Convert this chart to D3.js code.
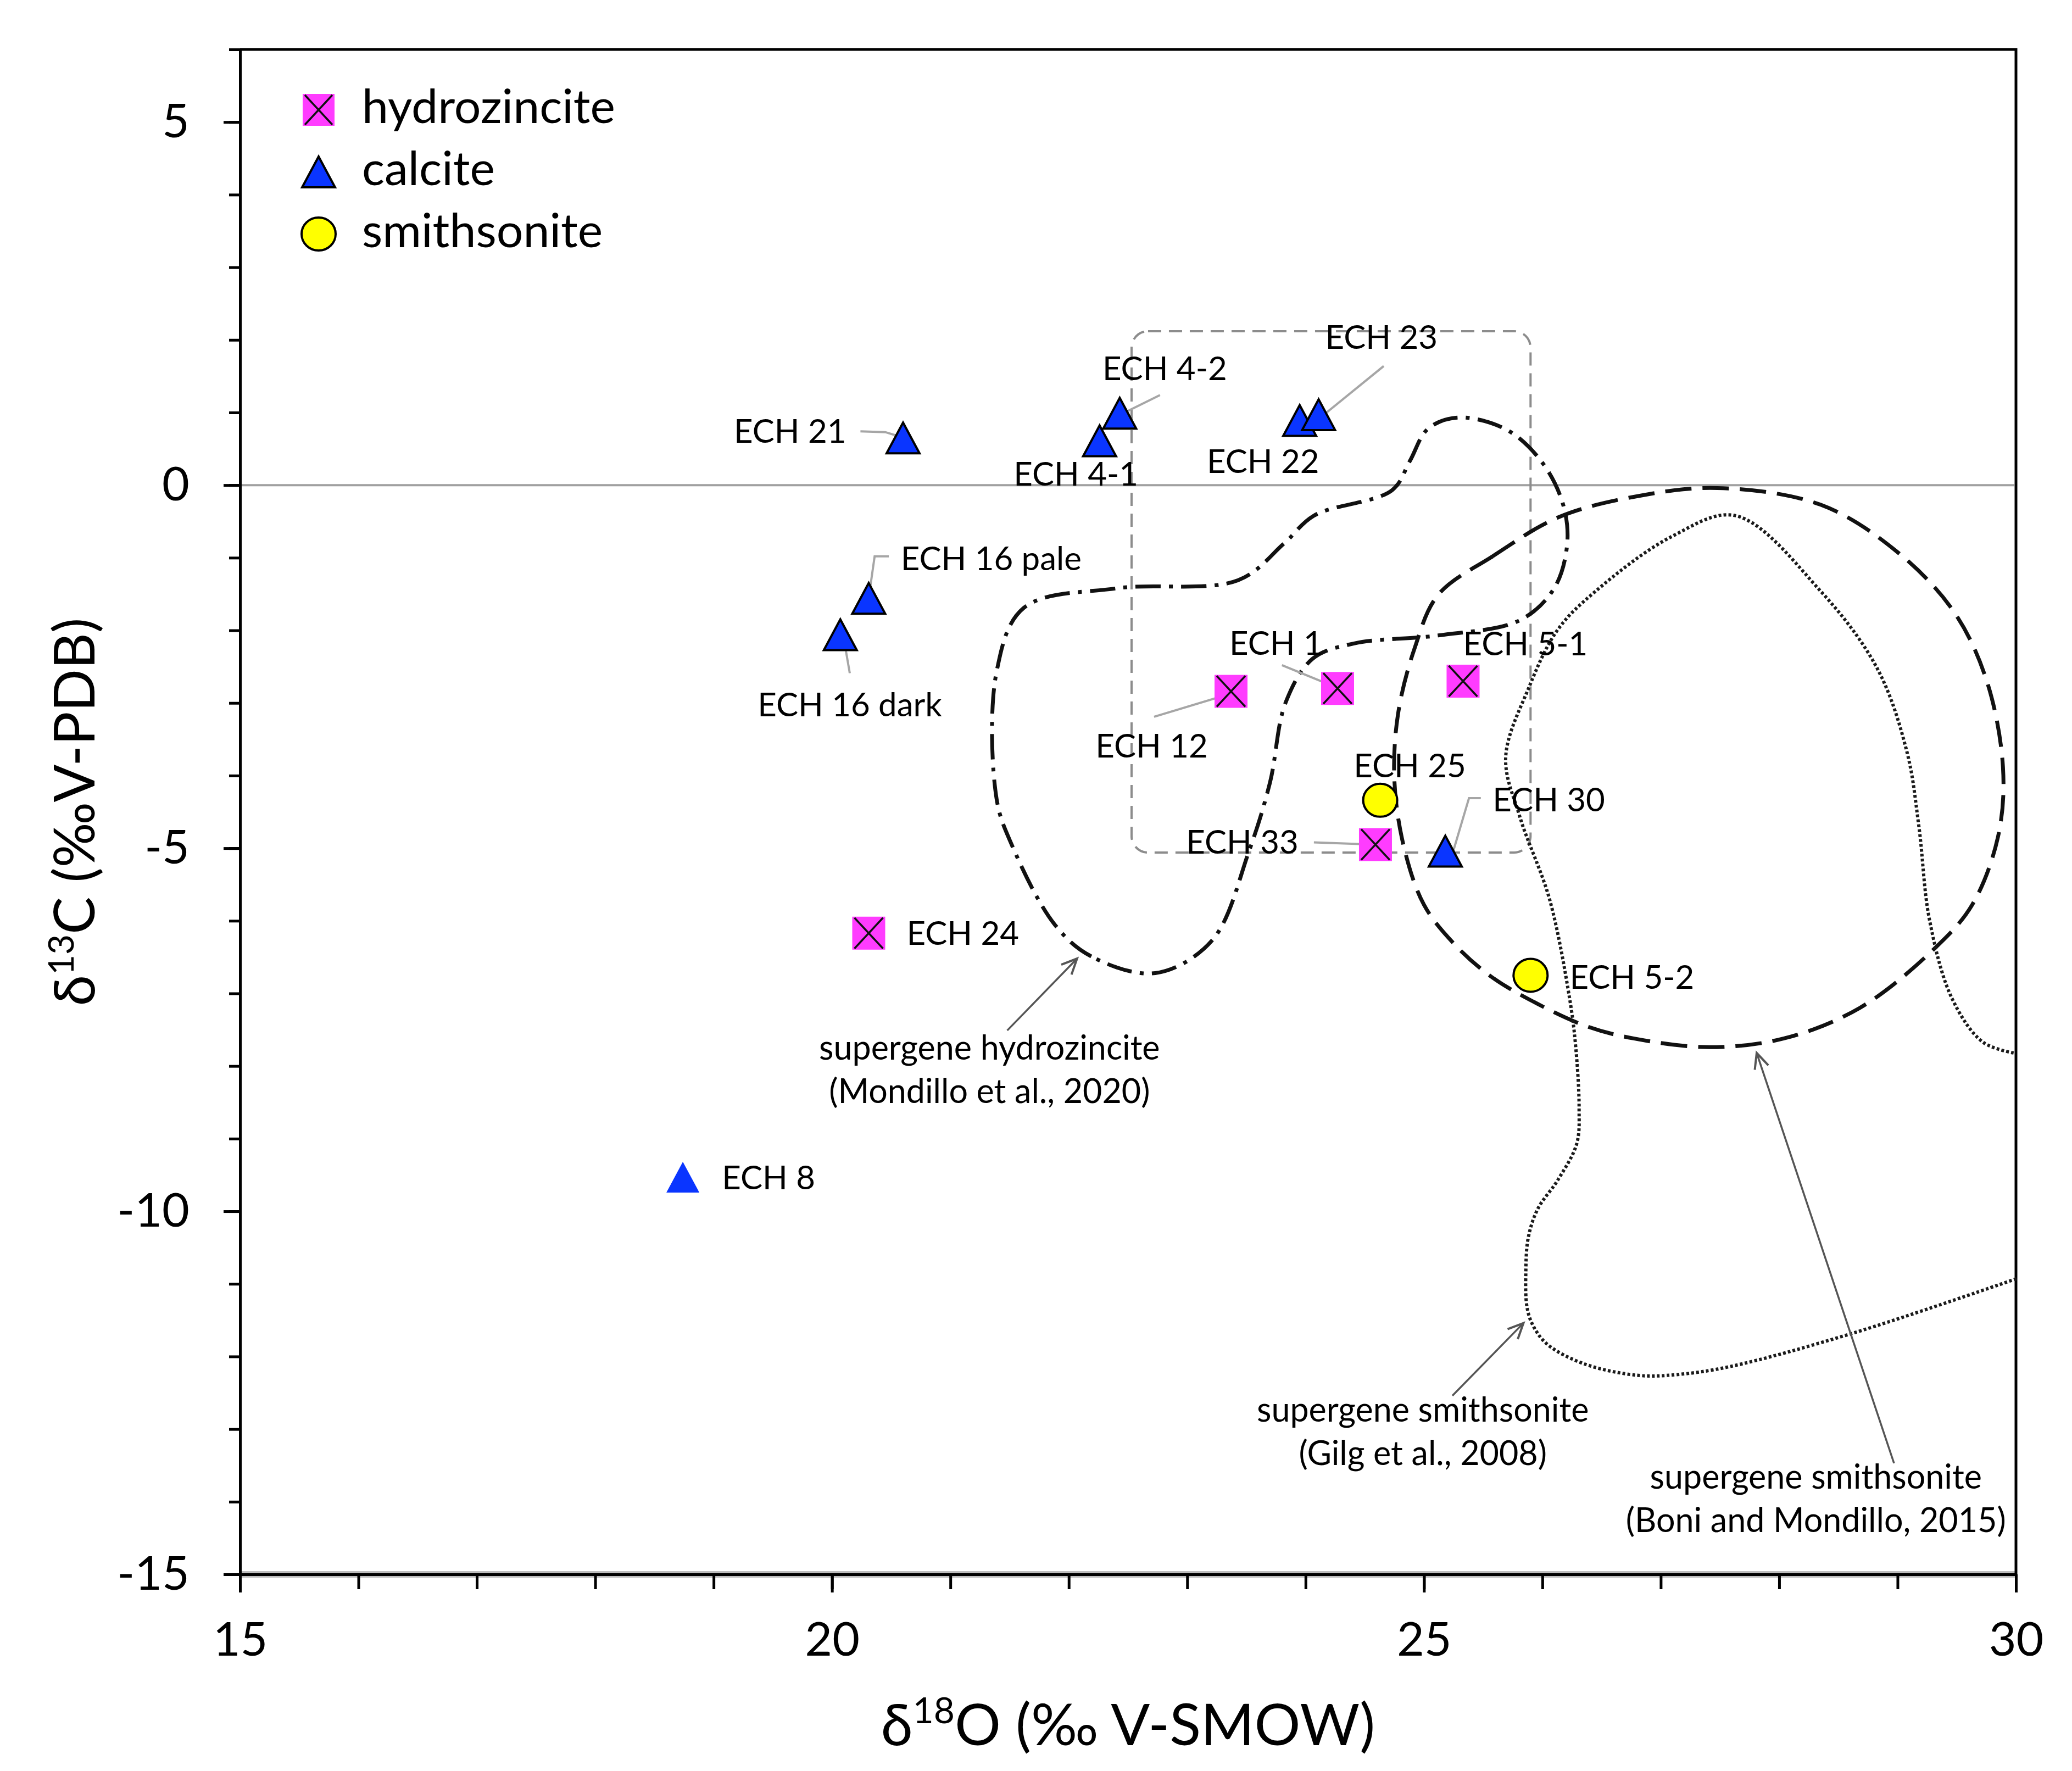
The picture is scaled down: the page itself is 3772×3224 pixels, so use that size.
<!DOCTYPE html>
<html>
<head>
<meta charset="utf-8">
<script src="https://cdn.jsdelivr.net/npm/d3@7/dist/d3.min.js"></script>
<style>
    body { margin: 0; background: #fff; }
    svg  { display: block; }
    text { font-family: Lato, "Open Sans", "DejaVu Sans", sans-serif; fill: #000; }
</style>
</head>
<body>
<svg id="isotope_chart" width="3772" height="3224"></svg>
<script>

/* ### DATA ### (d18O in permil V-SMOW, d13C in permil V-PDB) */

var hydrozincite_names = ['ECH 12', 'ECH 1', 'ECH 5-1', 'ECH 33', 'ECH 24'];
var hydrozincite_d18o  = [23.37, 24.27, 25.33, 24.59, 20.31];
var hydrozincite_d13c  = [-2.84, -2.80, -2.70, -4.95, -6.17];

var calcite_names = ['ECH 21', 'ECH 4-2', 'ECH 4-1', 'ECH 22', 'ECH 23', 'ECH 16 pale', 'ECH 16 dark', 'ECH 30', 'ECH 8'];
var calcite_d18o  = [20.60, 22.43, 22.26, 23.95, 24.11, 20.31, 20.07, 25.18, 18.74];
var calcite_d13c  = [0.65, 0.99, 0.61, 0.89, 0.97, -1.56, -2.06, -5.04, -9.53];

var smithsonite_names = ['ECH 25', 'ECH 5-2'];
var smithsonite_d18o  = [24.63, 25.90];
var smithsonite_d13c  = [-4.34, -6.75];

/* literature fields: supergene hydrozincite (Mondillo et al., 2020) - closed outline */
var field_hzn_d18o = [22.73, 22.19, 21.88, 21.52, 21.39, 21.39, 21.62, 22.41, 23.43, 23.82, 24.07, 24.73, 24.88, 25.03, 25.28, 25.69, 25.99, 26.17, 26.21, 26.10, 25.81, 25.12, 24.41, 24.06, 23.83, 23.70, 23.52, 23.21];
var field_hzn_d13c = [-6.72, -6.49, -6.05, -4.96, -4.32, -2.57, -1.69, -1.42, -1.31, -0.80, -0.42, -0.07, 0.33, 0.77, 0.93, 0.77, 0.33, -0.24, -0.80, -1.42, -1.86, -2.07, -2.18, -2.39, -3.00, -4.09, -5.05, -6.27];

/* supergene smithsonite (Boni and Mondillo, 2015) - closed outline */
var field_boni_d18o = [25.12, 25.58, 26.14, 26.81, 27.48, 28.35, 28.99, 29.47, 29.75, 29.89, 29.85, 29.63, 29.30, 28.68, 28.04, 27.41, 26.77, 26.37, 25.92, 25.56, 25.25, 25.00, 24.83, 24.75, 24.78, 24.92];
var field_boni_d13c = [-1.51, -0.98, -0.44, -0.15, -0.04, -0.27, -0.91, -1.73, -2.68, -3.88, -4.83, -5.78, -6.40, -7.20, -7.62, -7.74, -7.62, -7.45, -7.11, -6.76, -6.31, -5.78, -4.98, -4.07, -3.16, -2.25];

/* supergene smithsonite (Gilg et al., 2008) - open outline */
var field_gilg_d18o = [29.98, 29.72, 29.46, 29.27, 29.18, 29.08, 28.83, 28.35, 27.63, 27.09, 26.45, 26.13, 25.88, 25.69, 25.81, 26.06, 26.23, 26.28, 26.31, 26.29, 26.13, 25.96, 25.88, 25.86, 25.87, 25.92, 26.04, 26.35, 26.81, 27.13, 27.58, 28.62, 30.02];
var field_gilg_d13c = [-7.82, -7.67, -7.07, -5.99, -4.70, -3.68, -2.53, -1.46, -0.42, -0.71, -1.46, -1.99, -2.81, -3.75, -4.57, -5.70, -7.07, -7.71, -8.58, -9.07, -9.57, -9.97, -10.37, -10.84, -11.32, -11.57, -11.83, -12.10, -12.26, -12.25, -12.14, -11.68, -10.92];

/* dashed box around the sample group */
var box_d18o = [22.53, 25.90];
var box_d13c = [-5.06, 2.12];

/* axes */
var x_domain      = [15, 30];
var y_domain      = [-15, 6];
var x_major_ticks = [15, 20, 25, 30];
var y_major_ticks = [-15, -10, -5, 0, 5];

var legend_labels = ['hydrozincite', 'calcite', 'smithsonite'];


/* ### ANNOTATIONS ### - sample labels and leader lines, in data units */

var label_layout = [
    { name: 'ECH 21',      at: [20.12, 0.75],  anchor: 'end'    },
    { name: 'ECH 4-2',     at: [22.81, 1.61],  anchor: 'middle' },
    { name: 'ECH 4-1',     at: [22.06, 0.16],  anchor: 'middle' },
    { name: 'ECH 22',      at: [23.64, 0.33],  anchor: 'middle' },
    { name: 'ECH 23',      at: [24.64, 2.04],  anchor: 'middle' },
    { name: 'ECH 16 pale', at: [20.58, -1.01], anchor: 'start'  },
    { name: 'ECH 16 dark', at: [20.15, -3.02], anchor: 'middle' },
    { name: 'ECH 12',      at: [22.70, -3.59], anchor: 'middle' },
    { name: 'ECH 1',       at: [23.75, -2.17], anchor: 'middle' },
    { name: 'ECH 5-1',     at: [25.33, -2.18], anchor: 'start'  },
    { name: 'ECH 25',      at: [24.88, -3.86], anchor: 'middle' },
    { name: 'ECH 33',      at: [23.94, -4.91], anchor: 'end'    },
    { name: 'ECH 30',      at: [25.58, -4.33], anchor: 'start'  },
    { name: 'ECH 24',      at: [20.63, -6.17], anchor: 'start'  },
    { name: 'ECH 5-2',     at: [26.23, -6.77], anchor: 'start'  },
    { name: 'ECH 8',       at: [19.07, -9.53], anchor: 'start'  }
];

var leader_lines = [
    [[20.24, 0.74], [20.45, 0.73], [20.61, 0.65]],
    [[22.77, 1.24], [22.46, 0.99]],
    [[24.66, 1.64], [24.14, 0.95]],
    [[20.48, -0.98], [20.36, -0.98], [20.31, -1.55]],
    [[20.10, -2.12], [20.15, -2.59]],
    [[22.72, -3.19], [23.35, -2.88]],
    [[23.80, -2.48], [24.25, -2.78]],
    [[24.07, -4.92], [24.58, -4.95]],
    [[25.48, -4.31], [25.38, -4.31], [25.24, -5.08]]
];

var field_notes = [
    { lines: ['supergene hydrozincite', '(Mondillo et al., 2020)'], at: [21.33, -7.91], arrow: [[21.48, -7.51], [22.07, -6.52]] },
    { lines: ['supergene smithsonite', '(Gilg et al., 2008)'],      at: [24.99, -12.90], arrow: [[25.24, -12.54], [25.84, -11.54]] },
    { lines: ['supergene smithsonite', '(Boni and Mondillo, 2015)'], at: [28.31, -13.82], arrow: [[28.97, -13.47], [27.81, -7.82]] }
];

/* calcite marker drawn without outline */
var no_outline = ['ECH 8'];


/* ### SETUP ### */

var plot = { left: 437, right: 3670, top: 90, bottom: 2866 };

var colors = {
    hydrozincite: '#ff3cff',
    calcite:      '#0a35ff',
    smithsonite:  '#ffff00'
};

var svg = d3.select('#isotope_chart');

var x = d3.scaleLinear().domain(x_domain).range([plot.left, plot.right]);
var y = d3.scaleLinear().domain(y_domain).range([plot.bottom, plot.top]);

var to_points = function(xs, ys) {
    return xs.map(function(v, i) { return [v, ys[i]]; });
};

var line_data = d3.line()
    .x(function(d) { return x(d[0]); })
    .y(function(d) { return y(d[1]); });


/* ### FRAME + AXES ### */

/* light halo under the x axis line, as in the scanned figure */
svg.append('line')
    .attr('x1', plot.left).attr('x2', plot.right)
    .attr('y1', plot.bottom).attr('y2', plot.bottom)
    .attr('stroke', '#bdbdbd').attr('stroke-width', 12);

var style_axis = function(g, font_size) {
    g.select('.domain').attr('stroke', '#000').attr('stroke-width', 5);
    g.selectAll('.tick line').attr('stroke', '#000').attr('stroke-width', 5);
    g.selectAll('.tick text')
        .attr('font-family', 'Lato, "Open Sans", sans-serif')
        .attr('font-size', font_size)
        .attr('fill', '#000');
};

var y_minor_axis = d3.axisLeft(y).tickValues(d3.range(y_domain[0], y_domain[1] + 1))
    .tickSize(20).tickSizeOuter(0).tickFormat('');
var y_major_axis = d3.axisLeft(y).tickValues(y_major_ticks)
    .tickSize(30).tickSizeOuter(0).tickPadding(62)
    .tickFormat(function(d) { return String(d); });

svg.append('g').attr('transform', 'translate(' + plot.left + ',0)').call(y_minor_axis).call(style_axis, 86);
svg.append('g').attr('transform', 'translate(' + plot.left + ',0)').call(y_major_axis).call(style_axis, 86);

var x_minor_axis = d3.axisBottom(x).tickValues(d3.range(x_domain[0], x_domain[1] + 1))
    .tickSize(27).tickSizeOuter(0).tickFormat('');
var x_major_axis = d3.axisBottom(x).tickValues(x_major_ticks)
    .tickSize(33).tickSizeOuter(0).tickPadding(54)
    .tickFormat(function(d) { return String(d); });

svg.append('g').attr('transform', 'translate(0,' + plot.bottom + ')').call(x_minor_axis).call(style_axis, 86);
svg.append('g').attr('transform', 'translate(0,' + plot.bottom + ')').call(x_major_axis).call(style_axis, 86);

/* top + right border */
svg.append('path')
    .attr('d', 'M' + plot.left + ',' + plot.top + 'H' + plot.right + 'V' + plot.bottom)
    .attr('fill', 'none').attr('stroke', '#000').attr('stroke-width', 5);

/* zero line */
svg.append('line')
    .attr('x1', plot.left + 3).attr('x2', plot.right - 3)
    .attr('y1', y(0)).attr('y2', y(0))
    .attr('stroke', '#a0a0a0').attr('stroke-width', 4);

/* axis titles */
var x_title = svg.append('text')
    .attr('x', (plot.left + plot.right) / 2).attr('y', 3177)
    .attr('text-anchor', 'middle').attr('font-size', 105);
x_title.append('tspan').text('δ');
x_title.append('tspan').attr('dy', -40).attr('font-size', 66).text('18');
x_title.append('tspan').attr('dy', 40).text('O (‰ V-SMOW)');

var y_title = svg.append('text')
    .attr('transform', 'translate(172,' + ((plot.top + plot.bottom) / 2) + ') rotate(-90)')
    .attr('text-anchor', 'middle').attr('font-size', 102);
y_title.append('tspan').text('δ');
y_title.append('tspan').attr('dy', -38).attr('font-size', 64).text('13');
y_title.append('tspan').attr('dy', 38).text('C (‰V-PDB)');


/* ### FIELDS ### */

var fields = svg.append('g').attr('fill', 'none');

fields.append('rect')
    .attr('x', x(box_d18o[0])).attr('y', y(box_d13c[1]))
    .attr('width', x(box_d18o[1]) - x(box_d18o[0]))
    .attr('height', y(box_d13c[0]) - y(box_d13c[1]))
    .attr('rx', 30).attr('ry', 30)
    .attr('stroke', '#8c8c8c').attr('stroke-width', 4)
    .attr('stroke-dasharray', '24,14');

fields.append('path')
    .attr('d', line_data.curve(d3.curveCatmullRomClosed.alpha(0.5))(to_points(field_hzn_d18o, field_hzn_d13c)))
    .attr('stroke', '#111').attr('stroke-width', 7)
    .attr('stroke-dasharray', '46,15,7,15');

fields.append('path')
    .attr('d', line_data.curve(d3.curveCatmullRomClosed.alpha(0.5))(to_points(field_boni_d18o, field_boni_d13c)))
    .attr('stroke', '#111').attr('stroke-width', 7)
    .attr('stroke-dasharray', '48,20');

fields.append('path')
    .attr('d', line_data.curve(d3.curveCatmullRom.alpha(0.5))(to_points(field_gilg_d18o, field_gilg_d13c)))
    .attr('stroke', '#1a1a1a').attr('stroke-width', 6)
    .attr('stroke-dasharray', '5,4');


/* ### LEADERS + NOTES ### */

svg.append('defs').append('marker')
    .attr('id', 'open_arrow')
    .attr('markerUnits', 'userSpaceOnUse')
    .attr('markerWidth', 40).attr('markerHeight', 40)
    .attr('refX', 30).attr('refY', 15)
    .attr('orient', 'auto')
    .append('path')
    .attr('d', 'M2,2 L30,15 L2,28')
    .attr('fill', 'none').attr('stroke', '#555').attr('stroke-width', 4);

var leaders = svg.append('g').attr('fill', 'none');
leader_lines.forEach(function(pts) {
    leaders.append('path')
        .attr('d', line_data.curve(d3.curveLinear)(pts))
        .attr('stroke', '#a6a6a6').attr('stroke-width', 4);
});

field_notes.forEach(function(note) {
    svg.append('path')
        .attr('d', line_data.curve(d3.curveLinear)(note.arrow))
        .attr('fill', 'none').attr('stroke', '#555').attr('stroke-width', 3.5)
        .attr('marker-end', 'url(#open_arrow)');

    var t = svg.append('text')
        .attr('x', x(note.at[0])).attr('y', y(note.at[1]))
        .attr('text-anchor', 'middle').attr('font-size', 61);
    note.lines.forEach(function(l, i) {
        t.append('tspan')
            .attr('x', x(note.at[0]))
            .attr('dy', i === 0 ? 0 : 79)
            .text(l);
    });
});


/* ### MARKERS ### */

var draw_square = function(g, cx, cy, s) {
    g.append('rect')
        .attr('x', cx - s / 2).attr('y', cy - s / 2)
        .attr('width', s).attr('height', s)
        .attr('fill', colors.hydrozincite);
    g.append('path')
        .attr('d', 'M' + (cx - s / 2 + 4) + ',' + (cy - s / 2 + 2) + 'L' + (cx + s / 2 - 4) + ',' + (cy + s / 2 - 2) +
                   'M' + (cx + s / 2 - 4) + ',' + (cy - s / 2 + 2) + 'L' + (cx - s / 2 + 4) + ',' + (cy + s / 2 - 2))
        .attr('stroke', '#111').attr('stroke-width', 3.5);
};

var draw_triangle = function(g, cx, cy, outlined) {
    g.append('path')
        .attr('d', 'M' + cx + ',' + (cy - 28) + 'L' + (cx + 30) + ',' + (cy + 28) + 'L' + (cx - 30) + ',' + (cy + 28) + 'Z')
        .attr('fill', colors.calcite)
        .attr('stroke', outlined ? '#000' : 'none')
        .attr('stroke-width', 4).attr('stroke-linejoin', 'miter');
};

var draw_circle = function(g, cx, cy) {
    g.append('ellipse')
        .attr('cx', cx).attr('cy', cy).attr('rx', 31).attr('ry', 30)
        .attr('fill', colors.smithsonite)
        .attr('stroke', '#000').attr('stroke-width', 4);
};

var marks = svg.append('g');

hydrozincite_d18o.forEach(function(v, i) {
    draw_square(marks, x(v), y(hydrozincite_d13c[i]), 60);
});
calcite_d18o.forEach(function(v, i) {
    draw_triangle(marks, x(v), y(calcite_d13c[i]), no_outline.indexOf(calcite_names[i]) < 0);
});
smithsonite_d18o.forEach(function(v, i) {
    draw_circle(marks, x(v), y(smithsonite_d13c[i]));
});


/* ### SAMPLE LABELS ### */

svg.append('g').selectAll('text')
    .data(label_layout)
    .enter()
    .append('text')
    .attr('x', function(d) { return x(d.at[0]); })
    .attr('y', function(d) { return y(d.at[1]); })
    .attr('dy', '0.36em')
    .attr('text-anchor', function(d) { return d.anchor; })
    .attr('font-size', 60)
    .text(function(d) { return d.name; });


/* ### LEGEND ### */

var legend = svg.append('g');
var legend_rows = [200, 313, 426];

draw_square(legend, 580, legend_rows[0], 58);
draw_triangle(legend, 580, legend_rows[1], true);
draw_circle(legend, 580, legend_rows[2]);

legend.selectAll('text')
    .data(legend_labels)
    .enter()
    .append('text')
    .attr('x', 659)
    .attr('y', function(d, i) { return legend_rows[i] + 24; })
    .attr('font-size', 86)
    .text(function(d) { return d; });

</script>
</body>
</html>
